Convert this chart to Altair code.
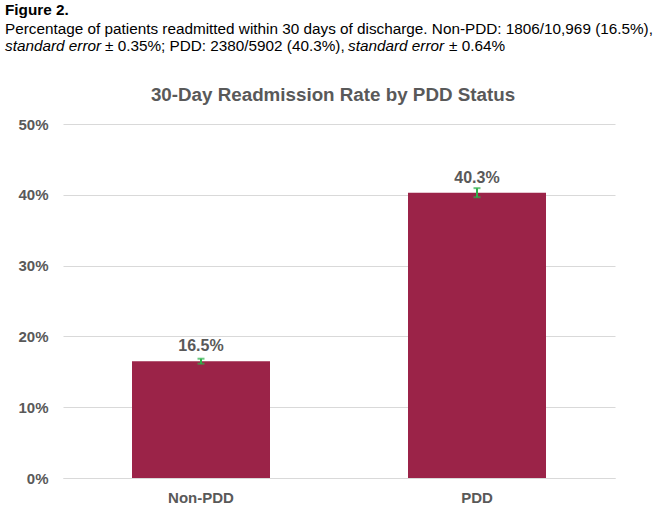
import altair as alt
import pandas as pd

# Readmission data by PDD status
groups = ["Non-PDD", "PDD"]
rates = [16.5, 40.3]          # percent readmitted within 30 days
std_errors = [0.35, 0.64]     # standard error, percent
y_ticks = [0, 10, 20, 30, 40, 50]

df = pd.DataFrame({"group": groups, "rate": rates, "se": std_errors})
df["rate_f"] = df["rate"] / 100
df["lo"] = (df["rate"] - df["se"]) / 100
df["hi"] = (df["rate"] + df["se"]) / 100
df["label"] = df["rate"].map(lambda v: f"{v:.1f}%")

GRAY = "#595959"
BAR = "#9B2348"
ERR = "#2EB14A"
FONT = "Liberation Sans"

x = alt.X("group:N", sort=groups, title=None,
          scale=alt.Scale(paddingInner=0.5, paddingOuter=0.25),
          axis=alt.Axis(labelAngle=0, labelFont=FONT, labelFontSize=15,
                        labelFontWeight="bold", labelColor=GRAY, labelPadding=12,
                        ticks=False, grid=False, domainColor="#d9d9d9", domainWidth=1.2))
y = alt.Y("rate_f:Q", title=None,
          scale=alt.Scale(domain=[0, 0.5]),
          axis=alt.Axis(values=[t / 100 for t in y_ticks], format=".0%",
                        labelFont=FONT, labelFontSize=15, labelFontWeight="bold",
                        labelColor=GRAY, labelPadding=15, ticks=False, domain=False,
                        gridColor="#d9d9d9", gridWidth=1.2))

base = alt.Chart(df)

bars = base.mark_bar(color=BAR).encode(x=x, y=y)

err_rule = base.mark_rule(color=ERR, strokeWidth=2).encode(
    x=alt.X("group:N", sort=groups), y="lo:Q", y2="hi:Q")
err_lo = base.mark_tick(color=ERR, size=7, thickness=2, orient="horizontal").encode(
    x=alt.X("group:N", sort=groups), y="lo:Q")
err_hi = base.mark_tick(color=ERR, size=7, thickness=2, orient="horizontal").encode(
    x=alt.X("group:N", sort=groups), y="hi:Q")

labels = base.mark_text(font=FONT, fontSize=16, fontWeight="bold", color=GRAY,
                        baseline="bottom", dy=-7).encode(
    x=alt.X("group:N", sort=groups), y="rate_f:Q", text="label:N")

# Chart title and figure caption drawn as text above the plot
def txt(s, xpos, ypos, size=15.3, weight="normal", style="normal", align="left", color="black"):
    return alt.Chart(pd.DataFrame({"t": [s]})).mark_text(
        font=FONT, fontSize=size, fontWeight=weight, fontStyle=style,
        align=align, baseline="middle", color=color
    ).encode(text="t:N", x=alt.value(xpos), y=alt.value(ypos))

title = txt("30-Day Readmission Rate by PDD Status", 270, -29, size=18.8,
            weight="bold", align="center", color=GRAY)
cap = [
    txt("Figure 2.", -58, -114, size=15.3, weight="bold"),
    txt("Percentage of patients readmitted within 30 days of discharge. "
        "Non-PDD: 1806/10,969 (16.5%),", -58, -95),
    txt("standard error", -58, -78, style="italic"),
    txt("\u00b1 0.35%; PDD: 2380/5902 (40.3%),", 42, -78),
    txt("standard error", 285, -78, style="italic"),
    txt("\u00b1 0.64%", 386, -78),
]

chart = alt.layer(bars, err_rule, err_lo, err_hi, labels, title, *cap).properties(
    width=552, height=354,
    background="white",
    autosize=alt.AutoSizeParams(type="none"),
    padding={"left": 63, "top": 124, "right": 42, "bottom": 35},
).configure_view(stroke=None)

chart.save("out.html", embed_options={"renderer": "svg", "actions": False})
